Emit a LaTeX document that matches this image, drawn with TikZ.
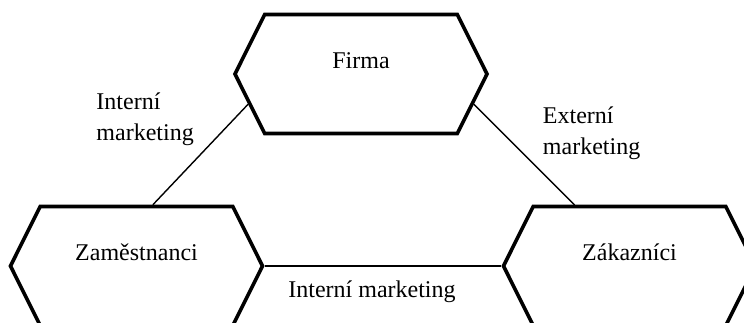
\documentclass[tikz,border=0pt]{standalone}
\usepackage{fontspec}
\setmainfont{Liberation Serif}
\usetikzlibrary{shapes.symbols}

\begin{document}
\begin{tikzpicture}[x=1pt,y=-1pt,font=\fontsize{24}{31}\selectfont,
  hexa/.style={signal,signal to=west and east,signal pointer angle=127,
    draw,line width=3.6pt,minimum width=252pt,minimum height=119pt,
    text height=16pt,text depth=28pt},
  link/.style={line width=1.4pt},
  lbl/.style={inner sep=0pt,align=left}]
\path[use as bounding box,clip] (0,0) rectangle (744,322);
% Nodes
\node[hexa] (firma) at (361,74) {Firma};
\node[hexa] (zam) at (136.5,266) {Zaměstnanci};
\node[hexa] (zak) at (629.5,266) {Zákazníci};

% Edges (marketing)
\draw[link] (firma.195) -- (zam.75)
  node[midway,lbl,anchor=south east,xshift=-6pt,yshift=8pt] {Interní\\marketing};
\draw[link] (firma.345) -- (zak.132)
  node[midway,lbl,anchor=west,xshift=18pt,yshift=21pt] {Externí\\marketing};
\draw[link] (zam.east) -- (zak.west)
  node[midway,lbl,anchor=north,xshift=-11pt,yshift=-14pt] {Interní marketing};
\end{tikzpicture}
\end{document}
